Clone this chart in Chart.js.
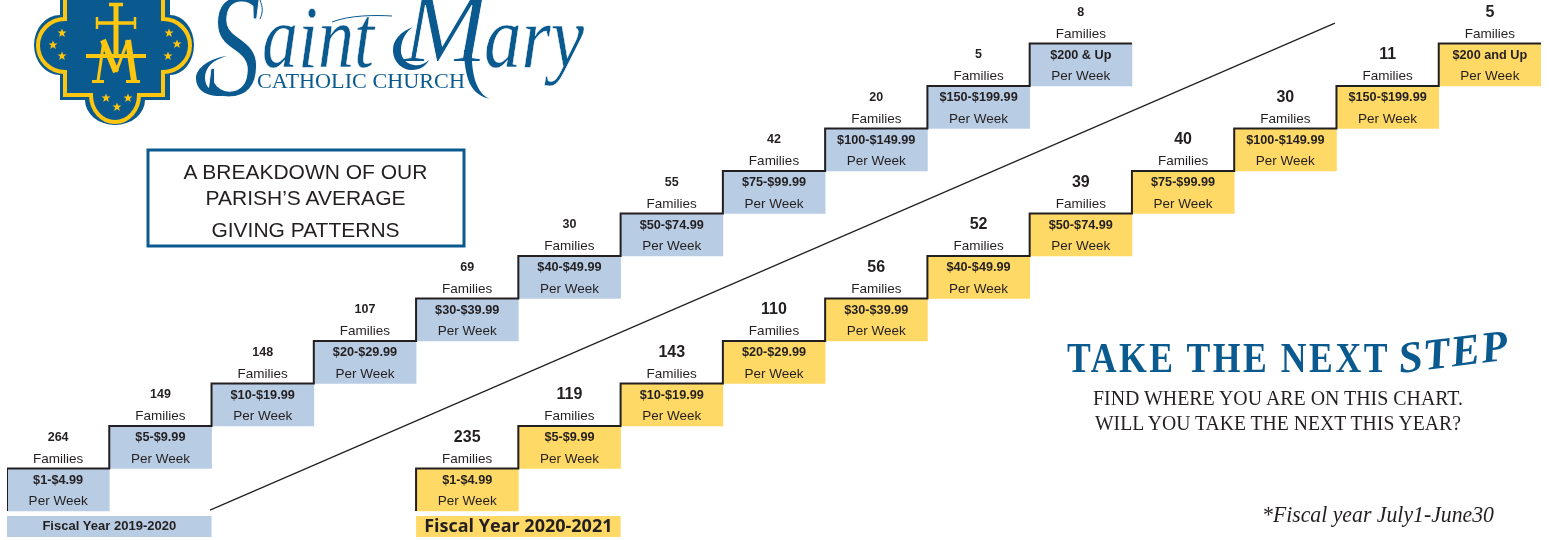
<!DOCTYPE html>
<html>
<head>
<meta charset="utf-8">
<title>Giving patterns</title>
<script src="https://cdn.jsdelivr.net/npm/chart.js@4"></script>
<style>
  html, body { margin: 0; background: #fff; }
  #wrap { position: relative; width: 1549px; height: 540px; overflow: hidden; }
  #steps { position: absolute; left: 0; top: 0; }
  #art { position: absolute; left: 0; top: 0; }
</style>
</head>
<body>
<div id="wrap">
  <canvas id="steps" width="1549" height="540"></canvas>
  <svg id="art" width="1549" height="540" viewBox="0 0 1549 540">
    <!-- crest -->
    <path d="M60 0V15A26 30 0 0 0 60 75V100H85A30 25 0 0 0 145 100H170V75A24 30 0 0 0 170 15V0Z" fill="#0a5a8f"/>
    <path d="M65 0V19A27 26.500 0 0 0 65 72V95H91A24 27 0 0 0 139 95H163V72A27 26.500 0 0 0 163 19V0" fill="none" stroke="#ffc60f" stroke-width="4"/>
    <g stroke="#ffc60f" fill="none">
      <path d="M116 5V56" stroke-width="5"/>
      <path d="M109 4.500H123M97 23H135" stroke-width="3.500"/>
      <path d="M97 17V29M135 17V29" stroke-width="2.500"/>
      <path d="M86 56H146" stroke-width="4"/>
      <path d="M103 40L116 72" stroke-width="6"/>
      <path d="M116 72L128 40" stroke-width="3"/>
      <path d="M104 40L98 81" stroke-width="3"/>
      <path d="M128 40L134 81" stroke-width="6"/>
      <path d="M92 81.500H104M126 81.500H140" stroke-width="3"/>
    </g>
    <g fill="#ffc60f">
      <defs><path id="star" d="M0 -4.500L1.200 -1.400H4.500L1.900 .6L2.800 3.900L0 2L-2.800 3.900L-1.900 .6L-4.500 -1.400H-1.200Z"/></defs>
      <use href="#star" x="62" y="33"/>
      <use href="#star" x="53" y="45"/>
      <use href="#star" x="62" y="56"/>
      <use href="#star" x="169" y="33"/>
      <use href="#star" x="177" y="44"/>
      <use href="#star" x="168" y="56"/>
      <use href="#star" x="106" y="98"/>
      <use href="#star" x="117" y="107"/>
      <use href="#star" x="128" y="98"/>
    </g>
    <!-- wordmark, glyphs thinned with a white outline, swashes on top -->
    <g fill="#0a5a8f" font-family="Liberation Serif" font-style="italic" stroke="#fff">
      <text x="207" y="96" font-size="150" textLength="54" lengthAdjust="spacingAndGlyphs" stroke-width="1.200">S</text>
      <text x="262" y="67" font-size="88" textLength="112" lengthAdjust="spacingAndGlyphs" stroke-width="0.500">aint</text>
      <text x="403" y="61" font-size="100" textLength="84" lengthAdjust="spacingAndGlyphs" stroke-width="0.800">M</text>
      <text x="484" y="67" font-size="88" textLength="100" lengthAdjust="spacingAndGlyphs" stroke-width="0.500">ary</text>
    </g>
    <path d="M222 96C210 97 196 92 196 78C196 68 210 58 227 56C212 60 205 68 205 78C205 87 212 93 222 92Z" fill="#0a5a8f"/>
    <path d="M260 0C263 8 263 12 260 19M332 22C350 15 375 15 392 16" fill="none" stroke="#0a5a8f" stroke-width="1"/>
    <path d="M413 27C400 32 393 40 393 50C393 62 402 70 412 70C420 70 426 66 429 60C425 64 419 66 414 65C405 64 400 56 401 48C402 38 407 31 413 27Z" fill="#0a5a8f"/>
    <path d="M472 50C471 72 476 94 490 99C481 97 474 92 470 84C466 76 464 62 464 50Z" fill="#0a5a8f"/>
    <text x="257" y="88" fill="#0a5a8f" font-family="Liberation Serif" font-size="20" textLength="208" lengthAdjust="spacingAndGlyphs">CATHOLIC CHURCH</text>
    <!-- breakdown box -->
    <rect x="148" y="150" width="316" height="96" fill="#fff" stroke="#0a5a8f" stroke-width="3"/>
    <g font-family="Liberation Sans" font-size="21" fill="#231f20" text-anchor="middle">
      <text x="305.500" y="179">A BREAKDOWN OF OUR</text>
      <text x="305.500" y="205">PARISH’S AVERAGE</text>
      <text x="305.500" y="237">GIVING PATTERNS</text>
    </g>
    <!-- call to action -->
    <text x="1067" y="372" fill="#0a5a8f" font-family="Liberation Serif" font-weight="bold" font-size="42" letter-spacing="3" textLength="323" lengthAdjust="spacingAndGlyphs">TAKE THE NEXT</text>
    <text transform="translate(1400 373) rotate(-7)" fill="#0a5a8f" font-family="Liberation Serif" font-weight="bold" font-style="italic" font-size="44" textLength="110" lengthAdjust="spacing">STEP</text>
    <g font-family="Liberation Serif" font-size="20" fill="#231f20">
      <text x="1093" y="405" textLength="370" lengthAdjust="spacingAndGlyphs">FIND WHERE YOU ARE ON THIS CHART.</text>
      <text x="1095" y="430" textLength="366" lengthAdjust="spacingAndGlyphs">WILL YOU TAKE THE NEXT THIS YEAR?</text>
    </g>
    <text x="1262" y="522" font-family="Liberation Serif" font-style="italic" font-size="23" fill="#231f20" textLength="232" lengthAdjust="spacingAndGlyphs">*Fiscal year July1-June30</text>
  </svg>
</div>
<script>
const columns = ["1", "2", "3", "4", "5", "6", "7", "8", "9", "10", "11", "12", "13", "14", "15"];

const ranges2019 = ["$1-$4.99", "$5-$9.99", "$10-$19.99", "$20-$29.99", "$30-$39.99", "$40-$49.99", "$50-$74.99", "$75-$99.99", "$100-$149.99", "$150-$199.99", "$200 & Up"];
const ranges2020 = ["$1-$4.99", "$5-$9.99", "$10-$19.99", "$20-$29.99", "$30-$39.99", "$40-$49.99", "$50-$74.99", "$75-$99.99", "$100-$149.99", "$150-$199.99", "$200 and Up"];

const families2019 = [264, 149, 148, 107, 69, 30, 55, 42, 20, 5, 8];
const families2020 = [235, 119, 143, 110, 56, 52, 39, 40, 30, 11, 5];

// floating bars, one stair step each
const steps2019 = [[0, 1], [1, 2], [2, 3], [3, 4], [4, 5], [5, 6], [6, 7], [7, 8], [8, 9], [9, 10], [10, 11], null, null, null, null];
const steps2020 = [null, null, null, null, [0, 1], [1, 2], [2, 3], [3, 4], [4, 5], [5, 6], [6, 7], [7, 8], [8, 9], [9, 10], [10, 11]];

const divider = [{ x: 1.985, y: 0.02 }, { x: 12.985, y: 11.48 }];
const band2019 = [{ x: 0, y: -0.365 }, { x: 2, y: -0.365 }];
const band2020 = [{ x: 4, y: -0.365 }, { x: 6, y: -0.365 }];

const BLUE = "#b8cce4";
const YELLOW = "#ffd966";
const INK = "#231f20";

// outline along the left and top edge of each step
function stairOutline(bars) {
  const pts = [];
  bars.forEach((bar, i) => {
    if (!bar) return;
    pts.push({ x: i, y: bar[0] }, { x: i, y: bar[1] }, { x: i + 1, y: bar[1] });
  });
  return pts;
}

const stairLabels = {
  id: "stairLabels",
  afterDatasetsDraw(chart) {
    const ctx = chart.ctx;
    const x = chart.scales.x;
    const y = chart.scales.y;

    function drawSteps(bars, ranges, families, countFont) {
      let n = 0;
      bars.forEach((bar, i) => {
        if (!bar) return;
        const cx = x.getPixelForValue(i);
        const top = y.getPixelForValue(bar[1]);
        ctx.font = countFont;
        ctx.fillText(String(families[n]), cx, top - 31);
        ctx.font = "13.5px 'Liberation Sans'";
        ctx.fillText("Families", cx, top - 9.5);
        ctx.font = "bold 12.7px 'Liberation Sans'";
        ctx.fillText(ranges[n], cx, top + 11.5);
        ctx.font = "13.5px 'Liberation Sans'";
        ctx.fillText("Per Week", cx, top + 33);
        n++;
      });
    }

    ctx.save();
    ctx.fillStyle = INK;
    ctx.textAlign = "center";
    ctx.textBaseline = "middle";
    drawSteps(steps2019, ranges2019, families2019, "bold 12.5px 'Liberation Sans'");
    drawSteps(steps2020, ranges2020, families2020, "bold 16px 'Liberation Sans'");

    const line = chart.scales.xLine;
    const bandY = y.getPixelForValue(band2019[0].y);
    ctx.font = "bold 13px 'Liberation Sans'";
    ctx.fillText("Fiscal Year 2019-2020", line.getPixelForValue(1), bandY);
    ctx.font = "bold 18px 'Open Sans'";
    ctx.fillText("Fiscal Year 2020-2021", line.getPixelForValue(5), bandY);
    ctx.restore();
  }
};

function barSet(data, color) {
  return {
    type: "bar",
    data: data,
    backgroundColor: color,
    borderWidth: 0,
    barPercentage: 1,
    categoryPercentage: 1,
    grouped: false
  };
}

function lineSet(data, color, width) {
  return {
    type: "line",
    data: data,
    xAxisID: "xLine",
    borderColor: color,
    borderWidth: width,
    borderCapStyle: "butt",
    borderJoinStyle: "miter",
    pointRadius: 0,
    tension: 0,
    fill: false
  };
}

new Chart(document.getElementById("steps").getContext("2d"), {
  data: {
    labels: columns,
    datasets: [
      lineSet(stairOutline(steps2019), INK, 2),
      lineSet(stairOutline(steps2020), INK, 2),
      lineSet(divider, INK, 1.2),
      barSet(steps2019, BLUE),
      barSet(steps2020, YELLOW),
      lineSet(band2019, BLUE, 21),
      lineSet(band2020, YELLOW, 21)
    ]
  },
  options: {
    responsive: false,
    animation: false,
    layout: { padding: { left: 7, right: 8, top: 0, bottom: 0 } },
    plugins: { legend: { display: false }, tooltip: { enabled: false } },
    scales: {
      x: { display: false, offset: true, grid: { display: false } },
      xLine: { type: "linear", display: false, min: 0, max: 15 },
      y: { display: false, min: -0.682, max: 12.024 }
    }
  },
  plugins: [stairLabels]
});
</script>
</body>
</html>
